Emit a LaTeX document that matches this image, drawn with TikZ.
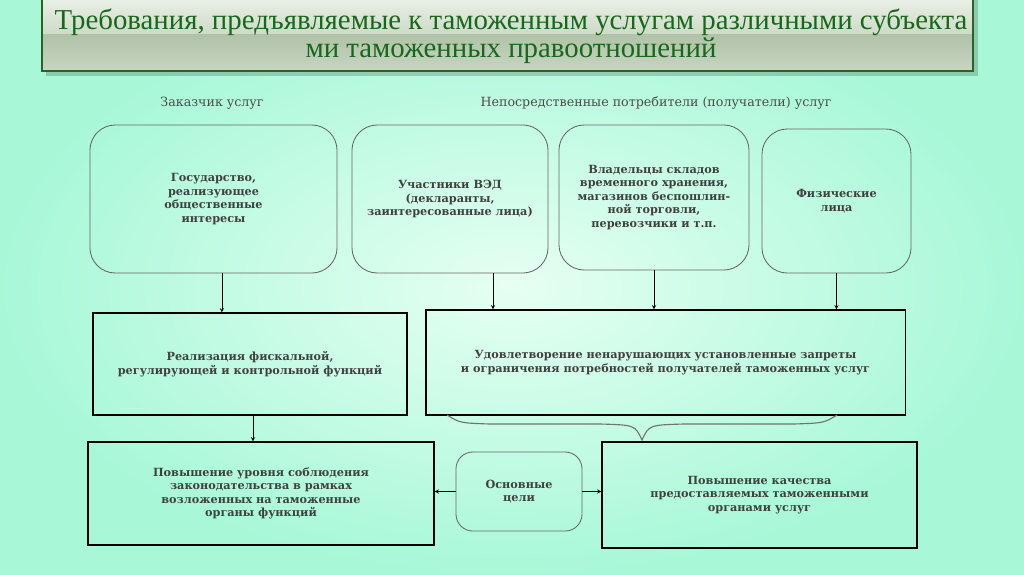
\documentclass[tikz,border=0pt]{standalone}
\usepackage{fontspec}
\setmainfont{DejaVu Serif}
\newfontfamily\titlefont{Liberation Serif}
\usetikzlibrary{shadows}

\definecolor{mintout}{RGB}{168,248,216}
\definecolor{mintin}{RGB}{230,255,242}
\definecolor{bannertop}{RGB}{236,242,232}
\definecolor{bannermid}{RGB}{206,218,200}
\definecolor{bannerlow}{RGB}{176,194,168}
\definecolor{bannerline}{RGB}{40,100,40}
\definecolor{titlegreen}{RGB}{24,104,28}

\tikzset{
    rbox/.style={draw=black!60, line width=0.6pt, rounded corners=18pt, align=center, text=black!75,
        font=\bfseries\fontsize{8}{9.6}\selectfont},
    sbox/.style={draw=black, line width=0.8pt, align=center, text=black!75,
        font=\bfseries\fontsize{8}{9.6}\selectfont},
    head/.style={text=black!70, font=\fontsize{9}{10}\selectfont},
    arr/.style={->, >=stealth, thin}
}

\begin{document}
\begin{tikzpicture}[x=0.025cm, y=-0.025cm]
    % Background
    \useasboundingbox (0,0) rectangle (1024,574);
    \shade[inner color=mintin, outer color=mintout] (0,0) rectangle (1024,574);

    % Title banner
    \fill[black, opacity=0.18] (46,-5) rectangle (978,76);
    \shade[top color=bannertop, bottom color=bannermid] (42,-5) rectangle (973,34);
    \shade[top color=bannerlow, bottom color=bannermid!80!bannerlow] (42,34) rectangle (973,71);
    \draw[bannerline, line width=1.2pt] (42,-5) rectangle (973,71);
    \node[text=titlegreen, align=center, font=\titlefont\fontsize{20.5}{20}\selectfont] (title) at (511,36)
        {Требования, предъявляемые к таможенным услугам различными субъекта\\ми таможенных правоотношений};

    % Group headings
    \node[head] (zak) at (212,103) {Заказчик услуг};
    \node[head] (potr) at (656,103) {Непосредственные потребители (получатели) услуг};

    % Top row
    \node[rbox, minimum width=6.175cm, minimum height=3.7cm] (gos) at (213.5,199)
        {Государство,\\реализующее\\общественные\\интересы};
    \node[rbox, minimum width=4.9cm, minimum height=3.7cm] (ved) at (450,199)
        {Участники ВЭД\\(декларанты,\\заинтересованные лица)};
    \node[rbox, minimum width=4.75cm, minimum height=3.625cm] (vlad) at (654,197.5)
        {Владельцы складов\\временного хранения,\\магазинов беспошлин-\\ной торговли,\\перевозчики и т.п.};
    \node[rbox, minimum width=3.725cm, minimum height=3.6cm] (fiz) at (836.5,201)
        {Физические\\лица};

    % Middle row
    \node[sbox, minimum width=7.85cm, minimum height=2.55cm] (real) at (250,364)
        {Реализация фискальной,\\регулирующей и контрольной функций};
    \node[sbox, minimum width=11.975cm, minimum height=2.625cm] (udov) at (665.5,362.5)
        {Удовлетворение ненарушающих установленные запреты\\и ограничения потребностей получателей таможенных услуг};

    % Bottom row
    \node[sbox, minimum width=8.65cm, minimum height=2.575cm] (pov1) at (261,493.5)
        {Повышение уровня соблюдения\\законодательства в рамках\\возложенных на таможенные\\органы функций};
    \node[rbox, rounded corners=12pt, minimum width=3.15cm, minimum height=1.975cm] (osn) at (519,491.5)
        {Основные\\цели};
    \node[sbox, minimum width=7.875cm, minimum height=2.65cm] (pov2) at (759.5,495)
        {Повышение качества\\предоставляемых таможенными\\органами услуг};

    % Arrows from the top row
    \draw[arr] ([xshift=0.21cm]gos.south) -- ([xshift=0.21cm]gos.south |- real.north);
    \draw[arr] ([xshift=1.075cm]ved.south) -- ([xshift=1.075cm]ved.south |- udov.north);
    \draw[arr] (vlad.south) -- (vlad.south |- udov.north);
    \draw[arr] (fiz.south) -- (fiz.south |- udov.north);

    % Arrows in the lower part
    \draw[arr] ([xshift=0.075cm]real.south) -- ([xshift=0.075cm]real.south |- pov1.north);
    \draw[arr] (osn.west) -- (osn.west -| pov1.east);
    \draw[arr] (osn.east) -- (osn.east -| pov2.west);

    % Brace under the right box
    \coordinate (bl) at (447,415);
    \coordinate (br) at (837,415);
    \coordinate (tip) at (642,440);
    \draw[black!55, thick] (bl) .. controls (460,423) .. (490,424) -- (600,424)
        .. controls (635,425) .. (tip) .. controls (649,425) .. (684,424) -- (794,424)
        .. controls (824,423) .. (br);
\end{tikzpicture}
\end{document}
